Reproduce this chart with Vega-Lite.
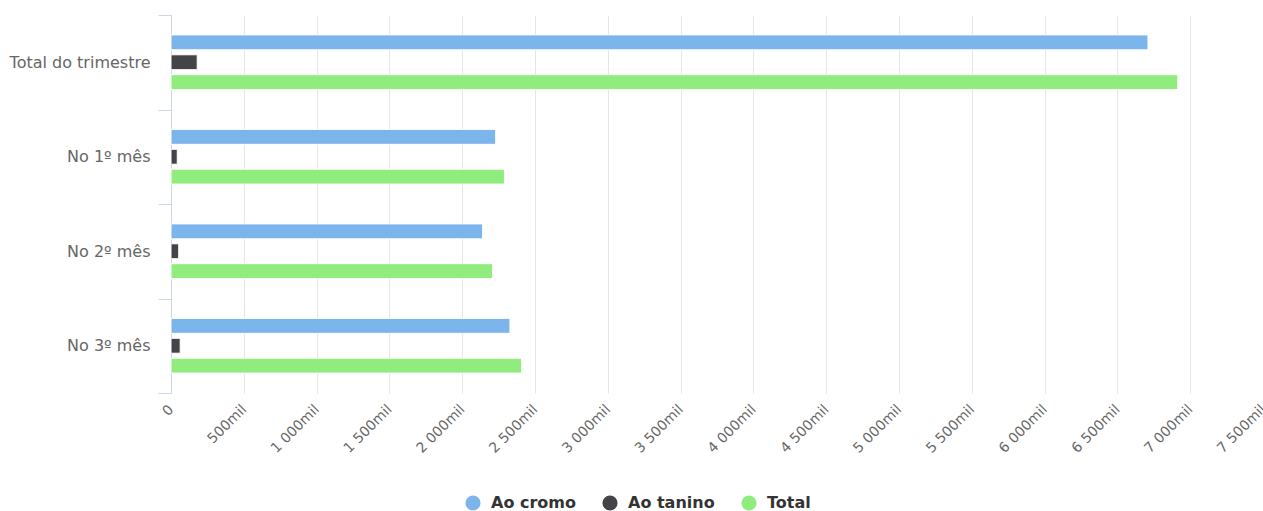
{
  "$schema": "https://vega.github.io/schema/vega-lite/v6.json",
  "autosize": {"type": "none"},
  "padding": {"left": 171, "top": 15, "right": 0, "bottom": 118},
  "width": 1092,
  "height": 378,
  "background": "white",
  "config": {
    "view": {"stroke": null},
    "font": "DejaVu Sans"
  },
  "data": {
    "values": [
      {"categoria": "Total do trimestre", "serie": "Ao cromo", "valor": 6710},
      {"categoria": "Total do trimestre", "serie": "Ao tanino", "valor": 180},
      {"categoria": "Total do trimestre", "serie": "Total", "valor": 6915},
      {"categoria": "No 1º mês", "serie": "Ao cromo", "valor": 2230},
      {"categoria": "No 1º mês", "serie": "Ao tanino", "valor": 43},
      {"categoria": "No 1º mês", "serie": "Total", "valor": 2290},
      {"categoria": "No 2º mês", "serie": "Ao cromo", "valor": 2140},
      {"categoria": "No 2º mês", "serie": "Ao tanino", "valor": 53},
      {"categoria": "No 2º mês", "serie": "Total", "valor": 2208},
      {"categoria": "No 3º mês", "serie": "Ao cromo", "valor": 2328},
      {"categoria": "No 3º mês", "serie": "Ao tanino", "valor": 63},
      {"categoria": "No 3º mês", "serie": "Total", "valor": 2408}
    ]
  },
  "mark": {"type": "bar", "stroke": "white", "strokeWidth": 1},
  "encoding": {
    "y": {
      "field": "categoria",
      "type": "nominal",
      "sort": ["Total do trimestre", "No 1º mês", "No 2º mês", "No 3º mês"],
      "scale": {"paddingInner": 0, "paddingOuter": 0},
      "axis": {
        "title": null,
        "tickBand": "extent",
        "tickSize": 13,
        "tickColor": "#ccd6eb",
        "domainColor": "#ccd6eb",
        "labelColor": "#666666",
        "labelFontSize": 16,
        "labelPadding": 8,
        "labelLimit": 300
      }
    },
    "yOffset": {
      "field": "serie",
      "type": "nominal",
      "sort": ["Ao cromo", "Ao tanino", "Total"],
      "scale": {"paddingInner": 0.25, "paddingOuter": 1.2}
    },
    "x": {
      "field": "valor",
      "type": "quantitative",
      "scale": {"domain": [0, 7500], "nice": false},
      "axis": {
        "title": null,
        "values": [0, 500, 1000, 1500, 2000, 2500, 3000, 3500, 4000, 4500, 5000, 5500, 6000, 6500, 7000, 7500],
        "labelExpr": "datum.value == 0 ? '0' : replace(format(datum.value, ','), ',', ' ') + 'mil'",
        "labelAngle": -45,
        "labelAlign": "right",
        "labelBaseline": "middle",
        "labelColor": "#666666",
        "labelFontSize": 14,
        "labelPadding": 14,
        "labelFlush": false,
        "labelOverlap": false,
        "ticks": false,
        "domain": false,
        "grid": true,
        "gridColor": "#e6e6e6",
        "gridWidth": 1
      }
    },
    "color": {
      "field": "serie",
      "type": "nominal",
      "sort": ["Ao cromo", "Ao tanino", "Total"],
      "scale": {"domain": ["Ao cromo", "Ao tanino", "Total"], "range": ["#7cb5ec", "#434348", "#90ed7d"]},
      "legend": {
        "title": null,
        "orient": "none",
        "legendX": 294,
        "legendY": 480,
        "direction": "horizontal",
        "symbolType": "circle",
        "symbolSize": 230,
        "symbolStrokeWidth": 0,
        "labelFontSize": 16,
        "labelFontWeight": "bold",
        "labelColor": "#333333",
        "columnPadding": 26,
        "labelOffset": 10
      }
    }
  }
}
